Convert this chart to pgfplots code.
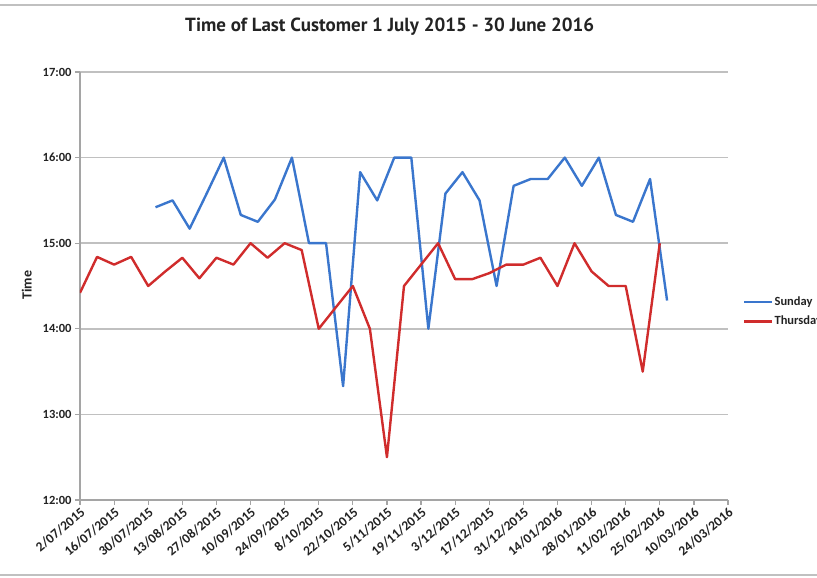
\documentclass[border=0pt]{standalone}
\usepackage{pgfplots}
\pgfplotsset{compat=1.18}
\usepackage{fontspec}
\setmainfont{Carlito}
\newfontfamily\titlefont{PT Sans}
\definecolor{sunblue}{RGB}{58,118,205}
\definecolor{thured}{RGB}{208,44,44}
\definecolor{gridgray}{RGB}{192,192,192}
\definecolor{axgray}{RGB}{165,165,165}
\definecolor{txt}{RGB}{35,35,35}

\begin{document}
\begin{tikzpicture}[x=1pt,y=1pt]
\useasboundingbox (-80,-78) rectangle (737,500);
% light frame of the chart area
\draw[gridgray, line width=1.5pt] (-80,495) -- (737,495);
\draw[gridgray, line width=1.5pt] (-80,-75) -- (737,-75);
\begin{axis}[
    at={(0,0)}, anchor=south west,
    width=648pt, height=428pt, scale only axis,
    xmin=0, xmax=266, ymin=12, ymax=17,
    axis x line*=bottom, axis y line*=left,
    axis line style={axgray, line width=1.5pt},
    tick align=outside, major tick length=5pt,
    tick style={axgray, line width=1.2pt},
    ymajorgrids, major grid style={gridgray, line width=1.5pt},
    xtick={0,14,...,266},
    xticklabels={2/07/2015,16/07/2015,30/07/2015,13/08/2015,27/08/2015,10/09/2015,24/09/2015,8/10/2015,22/10/2015,5/11/2015,19/11/2015,3/12/2015,17/12/2015,31/12/2015,14/01/2016,28/01/2016,11/02/2016,25/02/2016,10/03/2016,24/03/2016},
    ytick={12,13,14,15,16,17},
    yticklabels={12:00,13:00,14:00,15:00,16:00,17:00},
    xticklabel style={rotate=40, anchor=north east, inner sep=1pt, font=\fontsize{13.5}{15}\selectfont\bfseries, text=txt},
    yticklabel style={font=\fontsize{12.5}{14}\selectfont\bfseries, text=txt},
    ylabel={Time},
    ylabel style={at={(axis description cs:-0.082,0.502)}, anchor=center, font=\fontsize{14}{16}\selectfont\bfseries, text=txt},
    title={Time of Last Customer 1 July 2015 - 30 June 2016},
    title style={at={(axis description cs:0.478,1.091)}, anchor=center, font=\titlefont\fontsize{19}{22}\selectfont\bfseries, text=txt},
    legend style={at={(axis description cs:1.0185,0.44)}, anchor=west, draw=none, fill=none,
        font=\fontsize{12.5}{14}\selectfont\bfseries, text=txt, row sep=7pt,
        nodes={inner sep=1pt}},
    legend cell align=left,
    legend image code/.code={\draw[#1] (0pt,0pt) -- (28pt,0pt);},
    every axis plot/.append style={line width=2.4pt, line join=round},
]
\addplot[sunblue] coordinates {
(31,15.42) (38,15.50) (45,15.17) (52,15.58) (59,16.00) (66,15.33) (73,15.25)
(80,15.51) (87,16.00) (94,15.00) (101,15.00) (108,13.33) (115,15.83) (122,15.50)
(129,16.00) (136,16.00) (143,14.00) (150,15.58) (157,15.83) (164,15.50) (171,14.50)
(178,15.67) (185,15.75) (192,15.75) (199,16.00) (206,15.67) (213,16.00) (220,15.33)
(227,15.25) (234,15.75) (241,14.33)
};
\addlegendentry{Sunday}
\addplot[thured] coordinates {
(0,14.42) (7,14.84) (14,14.75) (21,14.84) (28,14.50) (35,14.67) (42,14.83)
(49,14.59) (56,14.83) (63,14.75) (70,15.00) (77,14.83) (84,15.00) (91,14.92)
(98,14.00) (105,14.25) (112,14.50) (119,14.00) (126,12.50) (133,14.50) (140,14.75)
(147,15.00) (154,14.58) (161,14.58) (168,14.65) (175,14.75) (182,14.75) (189,14.83)
(196,14.50) (203,15.00) (210,14.67) (217,14.50) (224,14.50) (231,13.50) (238,15.00)
};
\addlegendentry{Thursday}
\end{axis}
\end{tikzpicture}
\end{document}
